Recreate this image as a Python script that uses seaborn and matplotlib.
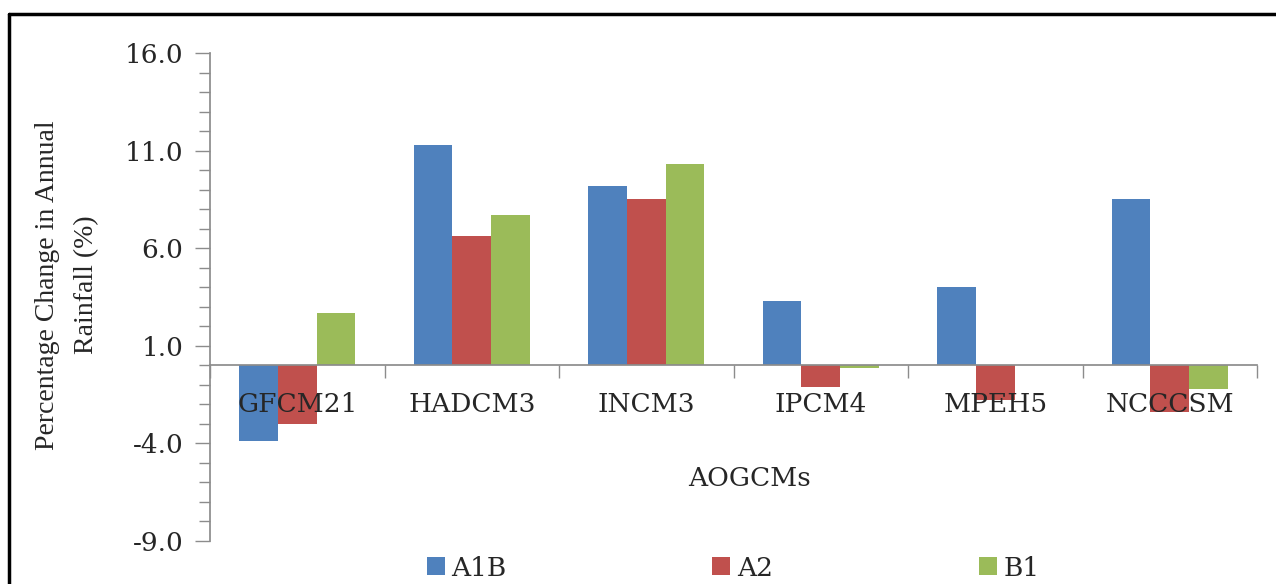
import matplotlib
matplotlib.use("Agg")
import matplotlib.pyplot as plt
from matplotlib.lines import Line2D
from matplotlib.ticker import MultipleLocator, FixedLocator
import numpy as np
import pandas as pd
import seaborn as sns

# Projected percentage change in annual rainfall per AOGCM and emission scenario
models = ["GFCM21", "HADCM3", "INCM3", "IPCM4", "MPEH5", "NCCCSM"]
scenarios = ["A1B", "A2", "B1"]
a1b = [-3.9, 11.3, 9.2, 3.3, 4.0, 8.5]
a2 = [-3.0, 6.6, 8.5, -1.1, -1.8, -2.4]
b1 = [2.7, 7.7, 10.3, -0.15, 0.0, -1.2]
y_ticks = [-9.0, -4.0, 1.0, 6.0, 11.0, 16.0]

colors = ["#4F81BD", "#C0504D", "#9BBB59"]

df = pd.DataFrame({
    "model": models * 3,
    "scenario": [s for s in scenarios for _ in models],
    "change": a1b + a2 + b1,
})

sns.set_theme(style="white")
plt.rcParams["font.family"] = ["DejaVu Serif", "Liberation Serif"]
plt.rcParams["axes.unicode_minus"] = False

W, H = 1276, 584
fig = plt.figure(figsize=(W / 100, H / 100), dpi=100)
fig.patch.set_facecolor("white")

x0, x1, y_top, y_bot = 210, 1257, 53, 541
ax = fig.add_axes([x0 / W, 1 - y_bot / H, (x1 - x0) / W, (y_bot - y_top) / H])

sns.barplot(data=df, x="model", y="change", hue="scenario",
            order=models, hue_order=scenarios, palette=colors,
            width=0.665, gap=0, errorbar=None, saturation=1,
            linewidth=0, ax=ax, zorder=2)

handles, labels = ax.get_legend_handles_labels()
if ax.get_legend() is not None:
    ax.get_legend().remove()

ax.set_xlim(-0.5, len(models) - 0.5)
ax.set_ylim(y_ticks[0], y_ticks[-1])
ax.set_xlabel("")
ax.set_ylabel("")

axis_grey = "#8C8C8C"
fs = 19

# y axis: major every 5, minor every 1, outward ticks
ax.yaxis.set_major_locator(FixedLocator(y_ticks))
ax.yaxis.set_minor_locator(MultipleLocator(1.0))
ax.set_yticklabels([f"{v:.1f}" for v in y_ticks], fontsize=fs)
ax.tick_params(axis="y", which="both", direction="out", left=True,
               color=axis_grey, width=1.0)
ax.tick_params(axis="y", which="major", length=11, pad=8)
ax.tick_params(axis="y", which="minor", length=8)

# x axis crossing at zero, ticks at category boundaries
ax.spines["bottom"].set_position(("data", 0))
ax.spines["bottom"].set_color(axis_grey)
ax.spines["left"].set_color(axis_grey)
ax.spines["top"].set_visible(False)
ax.spines["right"].set_visible(False)
ax.xaxis.set_minor_locator(FixedLocator(np.arange(-0.5, len(models), 1.0)))
ax.tick_params(axis="x", which="major", length=0, pad=19, labelsize=fs)
ax.tick_params(axis="x", which="minor", direction="out", bottom=True,
               length=9, color=axis_grey, width=1.0)
ax.set_axisbelow(False)
ax.xaxis.set_zorder(3)

fig.text(67 / W, 1 - 285 / H, "Percentage Change in Annual\nRainfall (%)",
         rotation=90, ha="center", va="center", fontsize=20,
         family=["Liberation Serif", "DejaVu Serif"], linespacing=1.7)
fig.text(750 / W, 1 - 478 / H, "AOGCMs", ha="center", va="center", fontsize=fs)

fig.legend(handles, labels, loc="center", bbox_to_anchor=(733 / W, 1 - 568 / H),
           ncol=3, frameon=False, fontsize=fs, handlelength=0.68,
           handleheight=0.68, handletextpad=0.25, columnspacing=7.8,
           borderpad=0, borderaxespad=0)

# outer frame (top and left edges)
fig.add_artist(Line2D([9 / W, 1.0], [1 - 14 / H, 1 - 14 / H],
                      transform=fig.transFigure, color="black", linewidth=2.5))
fig.add_artist(Line2D([9 / W, 9 / W], [0.0, 1 - 14 / H],
                      transform=fig.transFigure, color="black", linewidth=2.5))

fig.savefig("out.png", dpi=100, facecolor="white")
